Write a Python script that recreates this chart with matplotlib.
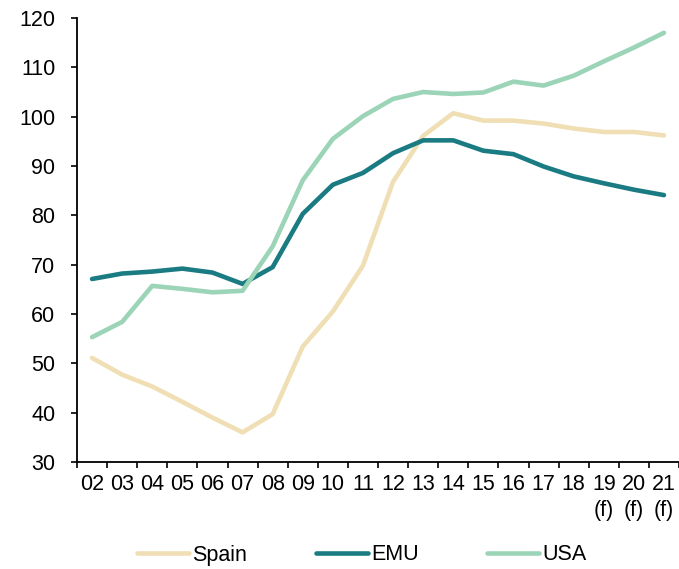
import matplotlib
matplotlib.use("Agg")
import matplotlib.pyplot as plt

plt.rcParams['font.family'] = ['Liberation Sans', 'DejaVu Sans']

years = ['02', '03', '04', '05', '06', '07', '08', '09', '10', '11',
         '12', '13', '14', '15', '16', '17', '18', '19', '20', '21']
forecast = ['19', '20', '21']

spain = [51.1, 47.7, 45.3, 42.2, 39.0, 36.0, 39.7, 53.4, 60.5, 69.8,
         86.8, 96.1, 100.7, 99.2, 99.2, 98.6, 97.6, 96.9, 96.9, 96.2]
emu = [67.1, 68.2, 68.6, 69.2, 68.4, 66.1, 69.5, 80.3, 86.2, 88.6,
       92.6, 95.2, 95.2, 93.1, 92.4, 89.9, 87.9, 86.5, 85.2, 84.1]
usa = [55.3, 58.4, 65.7, 65.1, 64.4, 64.7, 73.7, 87.1, 95.5, 100.1,
       103.6, 105.0, 104.6, 104.9, 107.1, 106.3, 108.3, 111.2, 114.0, 117.0]

colors = {'Spain': '#F0DFB4', 'EMU': '#1B7B83', 'USA': '#9BD4B6'}
fs = 15.5

fig = plt.figure(figsize=(6.79, 5.69), dpi=100)
ax = fig.add_axes([77 / 679, 1 - 462 / 569, 1 - 77 / 679, (462 - 18) / 569])

x = list(range(len(years)))
for name, vals in [('Spain', spain), ('EMU', emu), ('USA', usa)]:
    ax.plot(x, vals, color=colors[name], lw=3.3, solid_capstyle='round',
            solid_joinstyle='round', label=name)

ax.set_ylim(30, 120)
ax.set_yticks(range(30, 121, 10))
ax.set_xlim(-0.5, len(years) - 0.5)

# tick marks at category edges, labels at centres
ax.set_xticks([i - 0.5 for i in range(len(years) + 1)])
ax.set_xticklabels([])
ax.set_xticks(x, minor=True)
labels = [y + '\n(f)' if y in forecast else y for y in years]
ax.set_xticklabels(labels, minor=True, linespacing=1.3, va='top')
ax.tick_params(axis='x', which='minor', length=0, pad=9, labelsize=fs)
ax.tick_params(axis='x', which='major', length=4.5, width=1.2, direction='out')
ax.tick_params(axis='y', length=4.5, width=1.2, direction='out', labelsize=fs, pad=11)

for s in ['top', 'right']:
    ax.spines[s].set_visible(False)
for s in ['left', 'bottom']:
    ax.spines[s].set_linewidth(1.3)
ax.spines['left'].set_zorder(5)

handles, lbls = ax.get_legend_handles_labels()
fig.legend(handles, lbls, loc='center', bbox_to_anchor=(362 / 679, 1 - 555 / 569),
           ncol=3, frameon=False, fontsize=fs, handlelength=2.4,
           handletextpad=0.15, columnspacing=3.2)

fig.savefig('out.png', dpi=100)
